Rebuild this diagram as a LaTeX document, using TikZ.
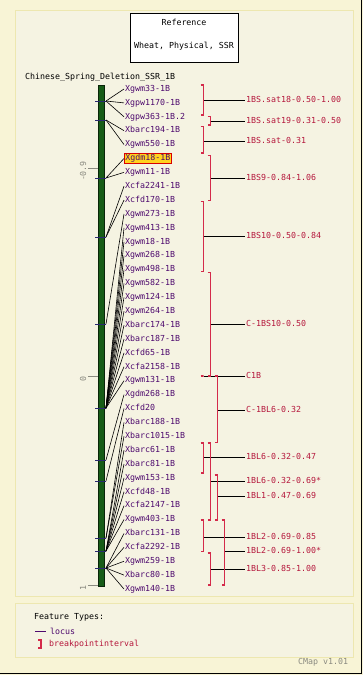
\documentclass[tikz,border=0pt]{standalone}
\usepackage{fontspec}
\setmonofont{DejaVu Sans Mono}
\definecolor{outerbg}{HTML}{F8F4D6}
\definecolor{innerbg}{HTML}{F5F3E2}
\definecolor{panelline}{HTML}{EDE7B0}
\definecolor{locuscol}{HTML}{4E0A6E}
\definecolor{bpcol}{HTML}{B5173C}
\definecolor{brcol}{HTML}{D42A4A}
\definecolor{chromo}{HTML}{175C17}
\definecolor{axisgrey}{HTML}{8A8A80}
\definecolor{tickcol}{HTML}{2A2A70}
\definecolor{hlyellow}{HTML}{FFD21F}
\tikzset{
  mono/.style={font=\ttfamily\fontsize{8.3}{9}\selectfont},
  locus/.style={mono, text=locuscol, anchor=west, inner sep=1pt, text height=6pt, text depth=1.5pt},
  hl/.style={fill=hlyellow, draw=red!85!black, line width=0.7pt},
  bplabel/.style={mono, text=bpcol, anchor=west, inner sep=1pt, text height=6pt, text depth=1.5pt},
  conn/.style={black, line width=0.6pt},
  bpbracket/.style={draw=brcol, line width=1.1pt},
  tickline/.style={tickcol, line width=0.8pt},
  axisline/.style={axisgrey, line width=0.8pt},
  axislabel/.style={mono, text=axisgrey, rotate=90, inner sep=0pt},
  panel/.style={fill=innerbg, draw=panelline, line width=1pt}
}
\begin{document}
\begin{tikzpicture}[x=1pt,y=-1pt]
\useasboundingbox (0,0) rectangle (363,675);
% backgrounds
\fill[outerbg] (0,0) rectangle (363,675);
\draw[black, line width=1.2pt] (361.5,0) -- (361.5,673.5) -- (0,673.5);
\draw[panel] (15,10) rectangle (353,596);
\draw[panel] (15,603) rectangle (353,657);
% reference box
\draw[black, fill=white, line width=0.8pt] (130,13) rectangle (238,62);
\node[mono] (ref1) at (184,22) {Reference};
\node[mono] (ref2) at (184,46) {Wheat, Physical, SSR};
% title
\node[mono, anchor=west, inner sep=0pt] (title) at (25,77) {Chinese\_Spring\_Deletion\_SSR\_1B};
% axis
\draw[axisline] (88,168) -- (98,168);
\node[axislabel] (ax1) at (83,171) {-0.9};
\draw[axisline] (88,376) -- (98,376);
\node[axislabel] (ax2) at (83,379) {0};
\draw[axisline] (88,585) -- (98,585);
\node[axislabel] (ax3) at (83,588) {1};
% chromosome
\draw[fill=chromo, draw=black!60!chromo, line width=0.6pt] (98,85) rectangle (104,586);
% loci labels
\foreach \lt [count=\i] in {Xgwm33-1B, Xgpw1170-1B, Xgpw363-1B.2, Xbarc194-1B, Xgwm550-1B,
  Xgdm18-1B, Xgwm11-1B, Xcfa2241-1B, Xcfd170-1B, Xgwm273-1B, Xgwm413-1B, Xgwm18-1B,
  Xgwm268-1B, Xgwm498-1B, Xgwm582-1B, Xgwm124-1B, Xgwm264-1B, Xbarc174-1B, Xbarc187-1B,
  Xcfd65-1B, Xcfa2158-1B, Xgwm131-1B, Xgdm268-1B, Xcfd20, Xbarc188-1B, Xbarc1015-1B,
  Xbarc61-1B, Xbarc81-1B, Xgwm153-1B, Xcfd48-1B, Xcfa2147-1B, Xgwm403-1B, Xbarc131-1B,
  Xcfa2292-1B, Xgwm259-1B, Xbarc80-1B, Xgwm140-1B}{
  \pgfmathsetmacro\ly{89+(\i-1)*13.89}
  \ifnum\i=6
    \node[locus, hl] (m\i) at (124,\ly) {\lt};
  \else
    \node[locus] (m\i) at (124,\ly) {\lt};
  \fi
}
% ticks and connectors
\foreach \t/\ty/\ms in {1/101/{1,2,3}, 2/120/{4,5}, 3/178/{6,7}, 4/237/{8,9},
  5/324/{10}, 6/408/{11,...,22}, 7/460/{23}, 8/481/{24}, 9/538/{25,26},
  10/551/{27,...,32}, 11/568/{33,...,37}}{
  \coordinate (t\t) at (106,\ty);
  \draw[tickline] (95,\ty) -- (t\t);
  \foreach \m in \ms {\draw[conn] (t\t) -- (m\m.west);}
}
% breakpoint intervals
\def\bplist{203.5/85/115/100/1BS.sat18-0.50-1.00,
  210.5/116.7/125/121/1BS.sat19-0.31-0.50,
  203.5/126.7/153/141/1BS.sat-0.31,
  210.5/155.7/200.7/178/1BS9-0.84-1.06,
  203.5/201.7/271.7/236.7/1BS10-0.50-0.84,
  210.5/272.7/376/324/C-1BS10-0.50,
  203.5/376/376/376/C1B,
  217.5/376/442.7/410/C-1BL6-0.32,
  203.5/443/473/457.7/1BL6-0.32-0.47,
  210.5/443/520/481/1BL6-0.32-0.69*,
  217.5/475/520/496.7/1BL1-0.47-0.69,
  203.5/520/551.7/537/1BL2-0.69-0.85,
  224.5/520/585/551.7/1BL2-0.69-1.00*,
  210.5/553/585/569/1BL3-0.85-1.00}
\foreach \bx/\bt/\bb/\bm/\bl [count=\i] in \bplist {
  \node[bplabel] (b\i) at (245,\bm) {\bl};
  \coordinate (bc\i) at (\bx,\bm);
  \draw[conn] (bc\i) -- (b\i.west);
}
\foreach \bx/\bt/\bb/\bm/\bl in \bplist {
  \draw[bpbracket] (\bx-3,\bt) -- (\bx,\bt) -- (\bx,\bb) -- (\bx-3,\bb);
}
% legend
\node[mono, anchor=west, inner sep=0pt] (ft) at (34,617) {Feature Types:};
\draw[locuscol, line width=0.9pt] (35,631) -- (46,631);
\node[mono, text=locuscol, anchor=west, inner sep=0pt] (lg1) at (50,631) {locus};
\draw[bpbracket] (38,640) -- (41,640) -- (41,648) -- (38,648);
\node[mono, text=bpcol, anchor=west, inner sep=0pt] (lg2) at (49,644) {breakpointinterval};
\node[mono, text=axisgrey, anchor=west, inner sep=0pt] (ver) at (298,662) {CMap v1.01};
\end{tikzpicture}
\end{document}
